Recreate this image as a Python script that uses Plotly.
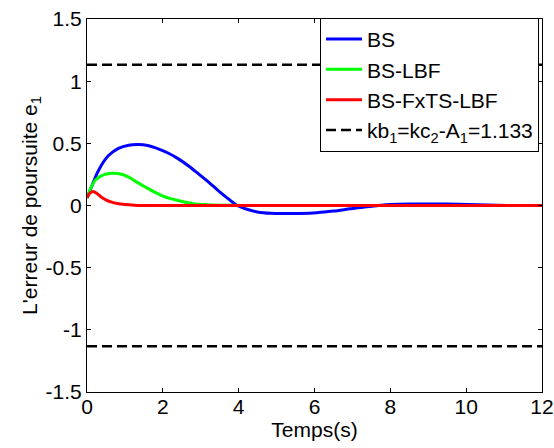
import plotly.graph_objects as go

# Time samples (s) and tracking error values
t_bs = [0, 0.08, 0.3, 0.56, 0.83, 1.1, 1.35, 1.6, 1.88, 2.15, 2.41, 2.68, 2.94, 3.2, 3.46, 3.72, 3.96, 4.24, 4.52, 4.85, 5.17, 5.6, 6.06, 6.5, 6.94, 7.38, 8.0, 8.6, 9.2, 9.8, 10.3, 10.8, 11.4, 12]
e_bs = [0.06, 0.12, 0.28, 0.40, 0.46, 0.485, 0.49, 0.483, 0.456, 0.42, 0.375, 0.318, 0.255, 0.19, 0.12, 0.055, 0.0, -0.032, -0.054, -0.063, -0.065, -0.064, -0.058, -0.045, -0.027, -0.01, 0.008, 0.012, 0.012, 0.01, 0.006, 0.002, 0.0, 0.0]

t_lbf = [0, 0.1, 0.21, 0.34, 0.47, 0.58, 0.69, 0.85, 1.09, 1.3, 1.53, 1.75, 1.97, 2.2, 2.41, 2.63, 2.85, 3.15, 3.5, 4.0, 5.0, 6.0, 8.0, 10.0, 12.0]
e_lbf = [0.06, 0.14, 0.20, 0.232, 0.25, 0.258, 0.26, 0.255, 0.23, 0.19, 0.15, 0.113, 0.08, 0.055, 0.04, 0.024, 0.013, 0.007, 0.003, 0.001, 0.0, 0.0, 0.0, 0.0, 0.0]

t_fxts = [0, 0.06, 0.16, 0.27, 0.38, 0.5, 0.65, 0.8, 1.0, 1.25, 1.5, 2.0, 3.0, 5.0, 8.0, 12.0]
e_fxts = [0.06, 0.095, 0.113, 0.095, 0.067, 0.046, 0.027, 0.016, 0.008, 0.003, 0.001, 0.0, 0.0, 0.0, 0.0, 0.0]

t_bound = [0, 12]
kb_upper = [1.133, 1.133]
kb_lower = [-1.133, -1.133]

x_ticks = [0, 2, 4, 6, 8, 10, 12]
x_ticktext = ["0", "2", "4", "6", "8", "10", "12"]
y_ticks = [1.5, 1, 0.5, 0, -0.5, -1, -1.5]
y_ticktext = ["1.5", "1", "0.5", "0", "-0.5", "-1", "-1.5"]

FONT = "Liberation Sans, Arial, sans-serif"
FS = 21

fig = go.Figure()
fig.add_trace(go.Scatter(x=t_bs, y=e_bs, mode="lines", name="BS",
                         line=dict(color="#0000ff", width=3, shape="spline", smoothing=0.8)))
fig.add_trace(go.Scatter(x=t_lbf, y=e_lbf, mode="lines", name="BS-LBF",
                         line=dict(color="#00ff00", width=3, shape="spline", smoothing=0.8)))
fig.add_trace(go.Scatter(x=t_fxts, y=e_fxts, mode="lines", name="BS-FxTS-LBF",
                         line=dict(color="#ff0000", width=3, shape="spline", smoothing=0.8)))
fig.add_trace(go.Scatter(x=t_bound, y=kb_upper, mode="lines",
                         name="kb<sub>1</sub>=kc<sub>2</sub>-A<sub>1</sub>=1.133",
                         line=dict(color="black", width=2.5, dash="10px,5px")))
fig.add_trace(go.Scatter(x=t_bound, y=kb_lower, mode="lines", showlegend=False,
                         line=dict(color="black", width=2.5, dash="10px,5px")))

axis_common = dict(showgrid=False, zeroline=False, showline=True, linecolor="black",
                   linewidth=1.2, mirror="ticks", ticks="inside", ticklen=4,
                   tickcolor="black", tickwidth=1, automargin=False,
                   tickfont=dict(family=FONT, size=FS, color="black"))

fig.update_xaxes(range=[0, 12], tickvals=x_ticks, ticktext=x_ticktext,
                 ticklabelstandoff=-4,
                 title=dict(text="Temps(s)", font=dict(family=FONT, size=FS, color="black"), standoff=0),
                 **axis_common)
fig.update_yaxes(range=[-1.5, 1.5], tickvals=y_ticks, ticktext=y_ticktext,
                 ticklabelstandoff=0,
                 title=dict(text="L'erreur de poursuite e<sub>1</sub>",
                            font=dict(family=FONT, size=FS, color="black"), standoff=2),
                 **axis_common)

fig.update_layout(
    width=554, height=448,
    margin=dict(l=87, r=12, t=19, b=56),
    plot_bgcolor="white", paper_bgcolor="white",
    font=dict(family=FONT, size=FS, color="black"),
    legend=dict(x=0.9934, y=1.003, xanchor="right", yanchor="top",
                bgcolor="white", bordercolor="black", borderwidth=1,
                font=dict(family=FONT, size=FS, color="black"),
                itemwidth=36, tracegroupgap=0),
    showlegend=True,
)

fig.write_html("out.html", config={"displayModeBar": False},
               post_script="document.body.style.margin='0';")
